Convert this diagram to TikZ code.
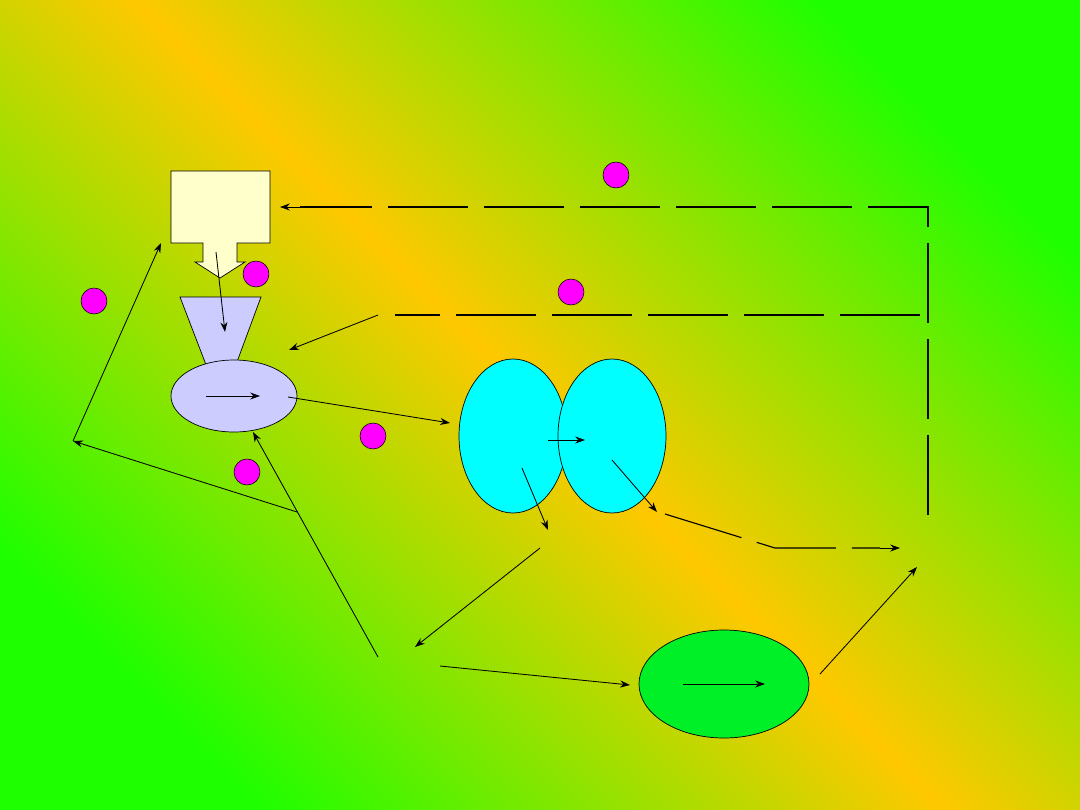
\documentclass[tikz,border=0pt]{standalone}
\usetikzlibrary{arrows.meta}
\definecolor{gr}{RGB}{30,255,0}
\definecolor{orn}{RGB}{255,200,0}
\pgfdeclarehorizontalshading{bgshade}{100bp}{color(0bp)=(gr); color(32bp)=(gr); color(50bp)=(orn); color(68bp)=(gr); color(100bp)=(gr)}
\begin{document}
\begin{tikzpicture}[x=0.025cm,y=-0.025cm,
  ar/.style={-{Stealth[length=7pt,width=5pt]},black,line width=0.6pt},
  dsh/.style={black,line width=0.8pt,dash pattern=on 2cm off 0.4cm},
  dot/.style={circle,draw=black,fill=mag,minimum size=0.65cm,inner sep=0pt}]
\definecolor{lav}{RGB}{204,204,255}
\definecolor{cre}{RGB}{255,255,204}
\definecolor{cy}{RGB}{0,255,255}
\definecolor{mag}{RGB}{255,0,255}
\definecolor{eg}{RGB}{0,240,40}
\useasboundingbox (0,0) rectangle (1080,810);
\begin{scope}
\clip (0,0) rectangle (1080,810);
\shade[shading=bgshade,shading angle=45] (-135,-270) rectangle (1215,1080);
\end{scope}
\draw[fill=cre,line width=0.5pt] (171,171)--(270,171)--(270,243)--(237,243)--(237,262)--(245,262)--(220,278)--(195,262)--(203,262)--(203,243)--(171,243)--cycle;
\draw[fill=lav,line width=0.5pt] (180,297)--(261,297)--(234,370)--(208,370)--cycle;
\draw[fill=lav,line width=0.5pt] (234,396) ellipse [x radius=63,y radius=36];
\draw[fill=cy,line width=0.5pt] (513,436) ellipse [x radius=54,y radius=77];
\draw[fill=cy,line width=0.5pt] (612,436) ellipse [x radius=54,y radius=77];
\draw[fill=eg,line width=0.5pt] (724,684) ellipse [x radius=85,y radius=54];
\coordinate (a1) at (206,396); \coordinate (a2) at (260,396);
\draw[ar] (a1)--(a2);
\coordinate (b1) at (548,440); \coordinate (b2) at (585,440);
\draw[ar] (b1)--(b2);
\coordinate (c1) at (683,684); \coordinate (c2) at (765,684);
\draw[ar] (c1)--(c2);
\foreach \p/\n in {{(616,175)}/d1,{(256,274)}/d2,{(571,292)}/d3,{(94,301)}/d4,{(373,436)}/d5,{(247,472)}/d6}
  \node[dot] (\n) at \p {};
\coordinate (p1) at (216,252); \coordinate (p2) at (225,332);
\coordinate (q1) at (288,397); \coordinate (q2) at (450,423);
\coordinate (r0) at (920,315); \coordinate (r1) at (378,315); \coordinate (r2) at (289,350);
\coordinate (t0) at (928,515); \coordinate (t1) at (928,207); \coordinate (t2) at (280,207);
\coordinate (u1) at (612,460); \coordinate (u2) at (657,512);
\coordinate (v1) at (665,514); \coordinate (v2) at (775,548); \coordinate (v3) at (900,548);
\coordinate (w1) at (522,468); \coordinate (w2) at (548,530);
\coordinate (x1) at (540,548); \coordinate (x2) at (415,647);
\coordinate (y1) at (378,657); \coordinate (y2) at (253,432);
\coordinate (z1) at (297,512); \coordinate (z2) at (73,441); \coordinate (z3) at (161,243);
\coordinate (g1) at (440,666); \coordinate (g2) at (630,685);
\coordinate (h1) at (820,674); \coordinate (h2) at (917,567);
\draw[ar] (p1)--(p2);
\draw[ar] (q1)--(q2);
\draw[dsh] (r0)--(395,315);
\draw[ar] (r1)--(r2);
\draw[dsh] (t0)--(t1)--(300,207);
\draw[ar] (300,207)--(t2);
\draw[ar] (u1)--(u2);
\draw[dsh] (v1)--(v2)--(880,548);
\draw[ar] (880,548)--(v3);
\draw[ar] (w1)--(w2);
\draw[ar] (x1)--(x2);
\draw[ar] (y1)--(y2);
\draw[ar] (z1)--(z2);
\draw[ar] (z2)--(z3);
\draw[ar] (g1)--(g2);
\draw[ar] (h1)--(h2);
\end{tikzpicture}
\end{document}
